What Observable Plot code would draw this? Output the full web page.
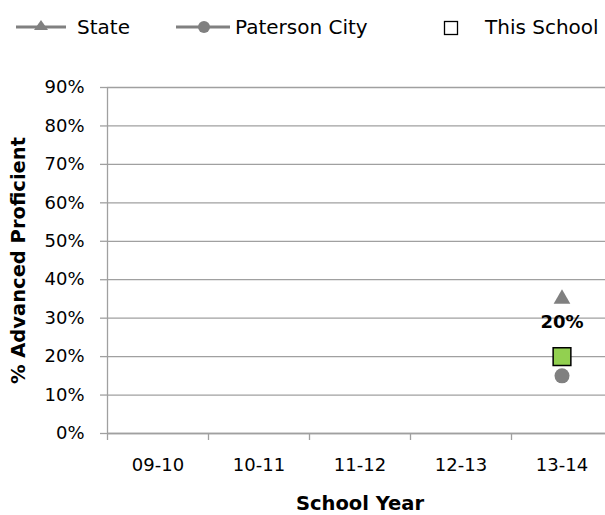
<!DOCTYPE html>
<html><head><meta charset="utf-8">
<script src="https://cdn.jsdelivr.net/npm/d3@7"></script>
<script src="https://cdn.jsdelivr.net/npm/@observablehq/plot@0.6"></script>
<style>
body{margin:0;background:#fff;font-family:"DejaVu Sans",sans-serif;}
#legend{position:relative;height:50px;width:605px;font-size:20px;color:#000;overflow:hidden;}
.item{position:absolute;top:14px;height:26px;display:flex;align-items:center;white-space:nowrap;}
.item svg{display:block;}
#chart svg{overflow:visible;}
</style></head><body>
<div id="legend"></div>
<div id="chart"></div>
<script>
// ---- data ----
const years = ["09-10", "10-11", "11-12", "12-13", "13-14"];
const stateValues = [null, null, null, null, 0.35];
const cityValues = [null, null, null, null, 0.15];
const schoolValues = [null, null, null, null, 0.20];
const yTicks = [0, 0.1, 0.2, 0.3, 0.4, 0.5, 0.6, 0.7, 0.8, 0.9];
const seriesNames = ["State", "Paterson City", "This School"];

const gray = "#808080";
const gridColor = "#a0a0a0";
const green = "#92d050";

// ---- legend ----
const legend = document.getElementById("legend");
function addItem(left, iconW, iconSvg, label, gap) {
  const d = document.createElement("div");
  d.className = "item";
  d.style.left = left + "px";
  d.innerHTML = `<svg width="${iconW}" height="26">${iconSvg}</svg><span style="margin-left:${gap}px">${label}</span>`;
  legend.appendChild(d);
}
addItem(15, 52, `<line x1="1" y1="13" x2="51" y2="13" stroke="${gray}" stroke-width="3"/><path d="M26,6 L33,16 L19,16 Z" fill="${gray}"/>`, seriesNames[0], 10);
addItem(175, 55, `<line x1="1" y1="13" x2="55" y2="13" stroke="${gray}" stroke-width="3"/><circle cx="29" cy="13" r="6" fill="${gray}"/>`, seriesNames[1], 5);
addItem(440, 20, `<rect x="4.5" y="7.5" width="13" height="13" fill="none" stroke="#000" stroke-width="1.3"/>`, seriesNames[2], 25);

// ---- chart ----
const rows = years.map((y, i) => ({i, year: y, state: stateValues[i], city: cityValues[i], school: schoolValues[i]}));
const boundaries = d3.range(years.length + 1);
const centers = years.map((_, i) => i + 0.5);
const pct = d => Math.round(d * 100) + "%";

const chart = Plot.plot({
  width: 605,
  height: 465,
  marginLeft: 107,
  marginRight: -7,
  marginTop: 37,
  marginBottom: 82,
  style: {fontFamily: "DejaVu Sans, sans-serif", fontSize: "18px", background: "#fff", overflow: "visible"},
  x: {type: "linear", domain: [0, years.length], axis: null},
  y: {domain: [0, 0.9], axis: null},
  marks: [
    Plot.gridY(yTicks, {stroke: gridColor, strokeOpacity: 1, strokeWidth: 1.3}),
    Plot.ruleX([0], {stroke: gridColor, strokeWidth: 1.3}),
    Plot.ruleY([0], {stroke: gridColor, strokeWidth: 1.3}),
    Plot.axisY(yTicks, {tickSize: 7, tickFormat: () => "", color: gridColor, strokeWidth: 1.3}),
    Plot.axisY(yTicks, {tickSize: 0, tickPadding: 23, tickFormat: pct, color: "#000", fontSize: 18}),
    Plot.axisX(boundaries, {tickSize: 7, tickFormat: () => "", color: gridColor, strokeWidth: 1.3}),
    Plot.axisX(centers, {tickSize: 0, tickPadding: 25, tickFormat: d => years[Math.floor(d)], color: "#000", fontSize: 18}),
    Plot.text(["School Year"], {frameAnchor: "bottom", dy: 76, fontWeight: "bold", fontSize: 19.5, fill: "#000"}),
    Plot.text(["% Advanced Proficient"], {frameAnchor: "left", textAnchor: "middle", dx: -89, rotate: -90, fontWeight: "bold", fontSize: 19.5, fill: "#000"}),
    Plot.dot(rows, {x: d => d.i + 0.5, y: "state", symbol: "triangle", r: 6.2, fill: gray, stroke: "none"}),
    Plot.dot(rows, {x: d => d.i + 0.5, y: "city", symbol: "circle", r: 7.5, fill: gray, stroke: "none"}),
    Plot.dot(rows, {x: d => d.i + 0.5, y: "school", symbol: "square", r: 10, fill: green, stroke: "#000", strokeWidth: 1.5}),
    Plot.text(rows.filter(d => d.school != null), {x: d => d.i + 0.5, y: "school", text: d => pct(d.school), dy: -34, fontWeight: "bold", fontSize: 18, fill: "#000"})
  ]
});
document.getElementById("chart").appendChild(chart);
</script>
</body></html>
